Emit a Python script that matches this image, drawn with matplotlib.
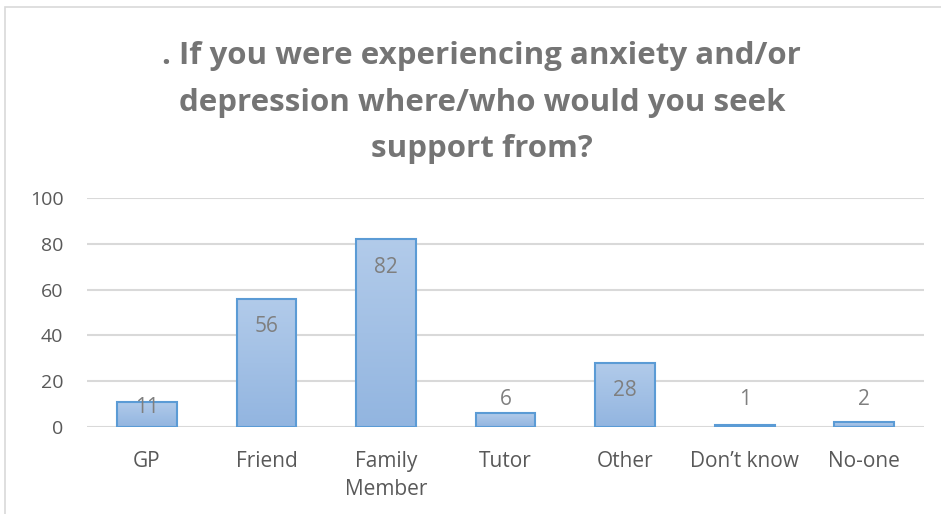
import matplotlib.pyplot as plt
import numpy as np
from matplotlib.patches import Rectangle
from matplotlib.colors import LinearSegmentedColormap

categories = ["GP", "Friend", "Family\nMember", "Tutor", "Other", "Don\u2019t know", "No-one"]
counts = [11, 56, 82, 6, 28, 1, 2]

plt.rcParams['font.family'] = ['Open Sans', 'DejaVu Sans']

fig = plt.figure(figsize=(9.41, 5.14), dpi=100)
fig.patches.append(Rectangle((5 / 941, -0.01), 1.0, 1 - 7 / 514 + 0.01, transform=fig.transFigure,
                             fill=False, edgecolor="#d9d9d9", linewidth=1.2))

ax = fig.add_axes([0.0925, 0.1693, 0.8895, 0.4455])
x = np.arange(len(categories))
bars = ax.bar(x, counts, width=0.5, color="none", edgecolor="#5b9bd5", linewidth=1.5, zorder=3)

# vertical gradient fill for each bar
grad = np.linspace(0, 1, 256).reshape(-1, 1)
cmap = LinearSegmentedColormap.from_list("bluegrad", ["#92b5e0", "#b2cbea"])
for b in bars:
    x0, w, h = b.get_x(), b.get_width(), b.get_height()
    im = ax.imshow(grad, cmap=cmap, aspect="auto", origin="lower",
                   extent=[x0, x0 + w, 0, h], zorder=2)
    im.set_clip_path(b)

for xi, v in zip(x, counts):
    if v > 10:
        y = max(v - 12.2, 8.7)
    else:
        y = 11.8
    ax.text(xi, y, str(v), ha="center", va="center", fontsize=15, color="#7f7f7f", zorder=4)

ax.set_xlim(-0.5, len(categories) - 0.5)
ax.set_ylim(0, 100)
ax.set_yticks(range(0, 101, 20))
ax.set_xticks(x)
ax.set_xticklabels(categories, linespacing=1.45)
ax.yaxis.grid(True, color="#d9d9d9", linewidth=1.5, zorder=0)
ax.set_axisbelow(True)
for s in ax.spines.values():
    s.set_visible(False)
ax.tick_params(axis="both", length=0, labelcolor="#595959")
ax.tick_params(axis="x", pad=17, labelsize=15)
ax.tick_params(axis="y", pad=17, labelsize=14)

fig.text(0.512, 0.80, ". If you were experiencing anxiety and/or\ndepression where/who would you seek\nsupport from?",
         ha="center", va="center", fontsize=22.5, fontweight="bold", color="#757575", linespacing=1.72)

fig.savefig("out.png", dpi=100)
